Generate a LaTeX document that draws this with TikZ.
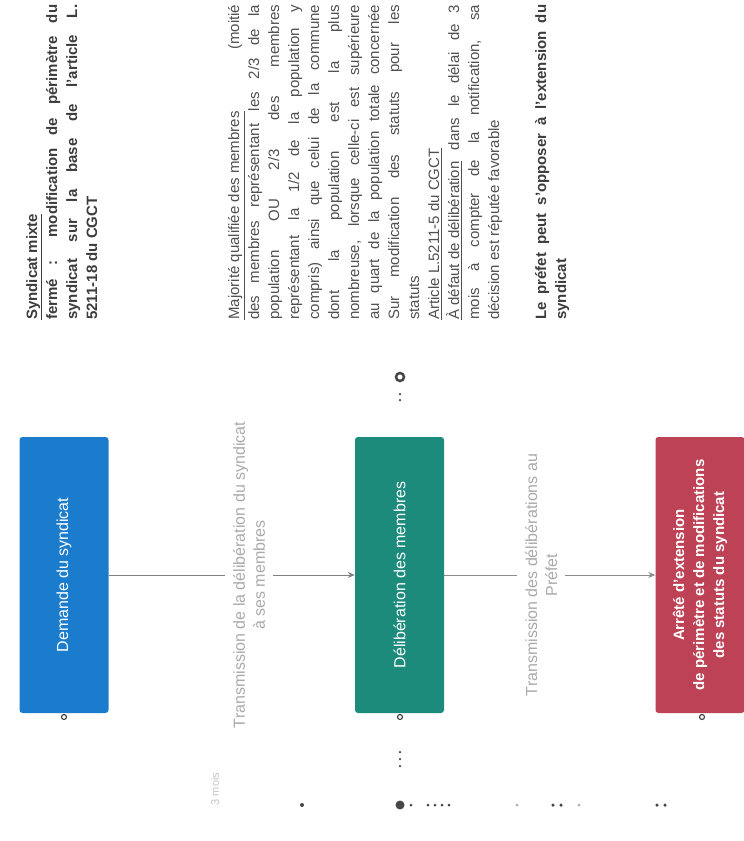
\documentclass[tikz,border=0pt]{standalone}
\usepackage{fontspec}
\setmainfont{Liberation Sans}
\usetikzlibrary{arrows.meta}
\definecolor{boxblue}{RGB}{27,124,206}
\definecolor{boxgreen}{RGB}{28,139,123}
\definecolor{boxred}{RGB}{190,66,86}
\definecolor{linegray}{RGB}{140,140,140}
\definecolor{labgray}{RGB}{170,170,170}
\definecolor{notegray}{RGB}{80,80,80}
\definecolor{boldgray}{RGB}{60,60,60}
\definecolor{dotgray}{RGB}{70,70,70}
\begin{document}
\begin{tikzpicture}[x=1pt,y=-1pt,
  box/.style={rotate=90, minimum width=276pt, minimum height=89pt, rounded corners=3pt,
    inner sep=2pt, text=white, align=center, font=\fontsize{16}{20}\selectfont},
  conn/.style={draw=linegray, line width=0.9pt},
  clabel/.style={rotate=90, fill=white, align=center, text=labgray,
    font=\fontsize{16}{20}\selectfont, inner sep=8pt},
  note/.style={rotate=90, anchor=north west, text width=315pt, inner sep=0pt, align=justify},
  handle/.style={circle, draw=dotgray, line width=1.2pt, inner sep=0pt, minimum size=#1},
  handle/.default=5pt,
  blob/.style={circle, fill=dotgray, inner sep=0pt, minimum size=#1},
  blob/.default=3pt
]
\useasboundingbox (0,0) rectangle (744,841);

% boxes
\node[box, fill=boxblue] (b1) at (64,575) {Demande du syndicat};
\node[box, fill=boxgreen] (b2) at (399.5,575) {Délibération des membres};
\node[box, fill=boxred, font=\bfseries\fontsize{15}{20}\selectfont] (b3) at (700,575)
  {Arrêté d'extension\\de périmètre et de modifications\\des statuts du syndicat};

% connectors
\draw[conn, draw=gray, -{Stealth[length=7pt,width=6pt]}] (b1.south) --
  node[clabel, pos=0.57] {Transmission de la délibération du syndicat\\à ses membres} (b2.north);
\draw[conn, -{Stealth[length=7pt,width=6pt]}] (b2.south) --
  node[clabel, pos=0.46] {Transmission des délibérations au\\Préfet} (b3.north);

% annotations
\node[note, text=boldgray, font=\bfseries\fontsize{15}{20}\selectfont] (n1) at (26,320)
  {\underline{Syndicat mixte}\par
   fermé : modification de périmètre du\linebreak
   syndicat sur la base de l'article L.\linebreak
   5211-18 du CGCT};
\node[note, text=notegray, font=\fontsize{15}{20}\selectfont] (n2) at (228,320)
  {\underline{Majorité qualifiée des membres} (moitié\linebreak
   des membres représentant les 2/3 de la\linebreak
   population OU 2/3 des membres\linebreak
   représentant la 1/2 de la population y\linebreak
   compris) ainsi que celui de la commune\linebreak
   dont la population est la plus\linebreak
   nombreuse, lorsque celle-ci est supérieure\linebreak
   au quart de la population totale concernée\linebreak
   Sur modification des statuts pour les\linebreak
   statuts\par
   \underline{Article L.5211-5 du CGCT}\par
   \underline{À défaut de délibération} dans le délai de 3\linebreak
   mois à compter de la notification, sa\linebreak
   décision est réputée favorable};
\node[note, text=boldgray, font=\bfseries\fontsize{15}{20}\selectfont] (n3) at (535,320)
  {Le préfet peut s'opposer à l'extension du syndicat};

% faint delay label
\node[rotate=90, text=labgray!70, font=\fontsize{11}{13}\selectfont] (delay) at (215,789) {3 mois};

% handles and dots
\node[handle] (h1) at (64,717) {};
\node[handle] (h2) at (400,717) {};
\node[handle] (h3) at (702,717) {};
\node[handle=8pt, line width=2.5pt] (h4) at (400,377) {};
\node[blob=2.5pt] (v1) at (400,394) {};
\node[blob=2.5pt] (v2) at (400,400) {};
\node[blob=2.5pt] (v3) at (400,752) {};
\node[blob=2.5pt] (v4) at (400,759) {};
\node[blob=2.5pt] (v5) at (400,766) {};
\node[blob=4pt] (t1) at (302,805) {};
\node[blob=9pt] (t2) at (400,805) {};
\node[blob=3pt] (t3) at (411,805) {};
\node[blob=3pt] (t4) at (428,805) {};
\node[blob=3pt] (t5) at (435,805) {};
\node[blob=3pt] (t6) at (442,805) {};
\node[blob=3pt] (t7) at (449,805) {};
\node[blob=3pt, fill=labgray] (t8) at (517,805) {};
\node[blob=3.5pt] (t9) at (553,805) {};
\node[blob=3.5pt] (t10) at (561,805) {};
\node[blob=3pt, fill=labgray] (t11) at (579,805) {};
\node[blob=3.5pt] (t12) at (657,805) {};
\node[blob=3.5pt] (t13) at (665,805) {};
\end{tikzpicture}
\end{document}
